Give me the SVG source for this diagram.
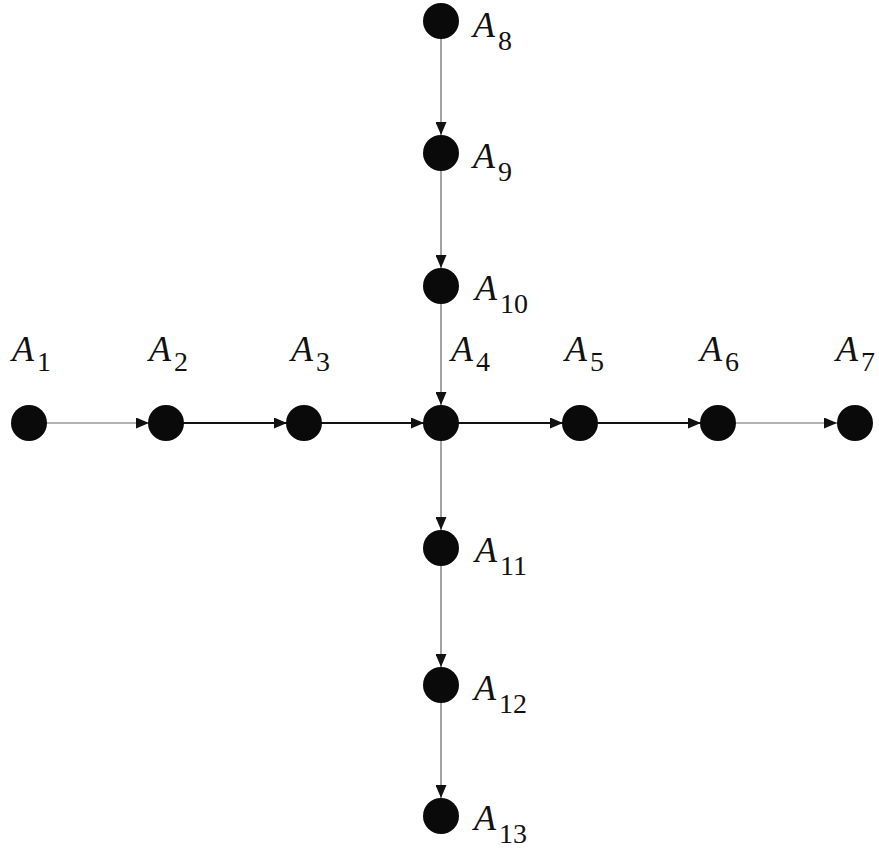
<svg xmlns="http://www.w3.org/2000/svg" width="879" height="849" viewBox="0 0 879 849">
<style>
.n{fill:#0a0a0a}
.thin{stroke:#666;stroke-width:1.2;fill:none}
.thick{stroke:#111;stroke-width:2.2;fill:none}
text{fill:#111}
.a{font-style:italic;font-size:36px}
.s{font-size:28px}
</style>
<defs>
<marker id="ah" markerUnits="userSpaceOnUse" markerWidth="13" markerHeight="11" refX="13" refY="5.5" orient="auto">
<path d="M0,0 L13,5.5 L0,11 z" fill="#111"/>
</marker>
</defs>
<rect width="879" height="849" fill="#fff"/>
<g id="connectors">
<line class="thin" x1="46" y1="423" x2="149" y2="423" marker-end="url(#ah)"/>
<line class="thick" x1="183" y1="423" x2="287" y2="423" marker-end="url(#ah)"/>
<line class="thick" x1="321" y1="423" x2="424" y2="423" marker-end="url(#ah)"/>
<line class="thick" x1="458" y1="423" x2="563" y2="423" marker-end="url(#ah)"/>
<line class="thick" x1="597" y1="423" x2="701" y2="423" marker-end="url(#ah)"/>
<line class="thin" x1="735" y1="423" x2="837" y2="423" marker-end="url(#ah)"/>
<line class="thin" x1="441" y1="38" x2="441" y2="135" marker-end="url(#ah)"/>
<line class="thin" x1="441" y1="170" x2="441" y2="268" marker-end="url(#ah)"/>
<line class="thin" x1="441" y1="303" x2="441" y2="405" marker-end="url(#ah)"/>
<line class="thin" x1="441" y1="440" x2="441" y2="530" marker-end="url(#ah)"/>
<line class="thin" x1="441" y1="565" x2="441" y2="667" marker-end="url(#ah)"/>
<line class="thin" x1="441" y1="702" x2="441" y2="798" marker-end="url(#ah)"/>
</g>
<g font-family="Liberation Serif, Times New Roman, serif">
<g id="A1"><circle class="n" cx="29" cy="423" r="18"/><text x="12" y="361"><tspan class="a">A</tspan><tspan class="s" dx="3" dy="10">1</tspan></text></g>
<g id="A2"><circle class="n" cx="166" cy="423" r="18"/><text x="149" y="361"><tspan class="a">A</tspan><tspan class="s" dx="3" dy="10">2</tspan></text></g>
<g id="A3"><circle class="n" cx="304" cy="423" r="18"/><text x="291" y="361"><tspan class="a">A</tspan><tspan class="s" dx="3" dy="10">3</tspan></text></g>
<g id="A4"><circle class="n" cx="441" cy="423" r="18"/><text x="451" y="361"><tspan class="a">A</tspan><tspan class="s" dx="3" dy="10">4</tspan></text></g>
<g id="A5"><circle class="n" cx="580" cy="423" r="18"/><text x="565" y="361"><tspan class="a">A</tspan><tspan class="s" dx="3" dy="10">5</tspan></text></g>
<g id="A6"><circle class="n" cx="718" cy="423" r="18"/><text x="700" y="361"><tspan class="a">A</tspan><tspan class="s" dx="3" dy="10">6</tspan></text></g>
<g id="A7"><circle class="n" cx="855" cy="423" r="18"/><text x="836" y="361"><tspan class="a">A</tspan><tspan class="s" dx="3" dy="10">7</tspan></text></g>
<g id="A8"><circle class="n" cx="441" cy="21" r="18"/><text x="473" y="37"><tspan class="a">A</tspan><tspan class="s" dx="3" dy="13">8</tspan></text></g>
<g id="A9"><circle class="n" cx="441" cy="153" r="18"/><text x="473" y="168"><tspan class="a">A</tspan><tspan class="s" dx="3" dy="13">9</tspan></text></g>
<g id="A10"><circle class="n" cx="441" cy="286" r="18"/><text x="475" y="300"><tspan class="a">A</tspan><tspan class="s" dx="3" dy="13">10</tspan></text></g>
<g id="A11"><circle class="n" cx="441" cy="548" r="18"/><text x="475" y="562"><tspan class="a">A</tspan><tspan class="s" dx="3" dy="13">11</tspan></text></g>
<g id="A12"><circle class="n" cx="441" cy="685" r="18"/><text x="474" y="700"><tspan class="a">A</tspan><tspan class="s" dx="3" dy="13">12</tspan></text></g>
<g id="A13"><circle class="n" cx="441" cy="816" r="18"/><text x="474" y="830"><tspan class="a">A</tspan><tspan class="s" dx="3" dy="13">13</tspan></text></g>
</g>
</svg>
